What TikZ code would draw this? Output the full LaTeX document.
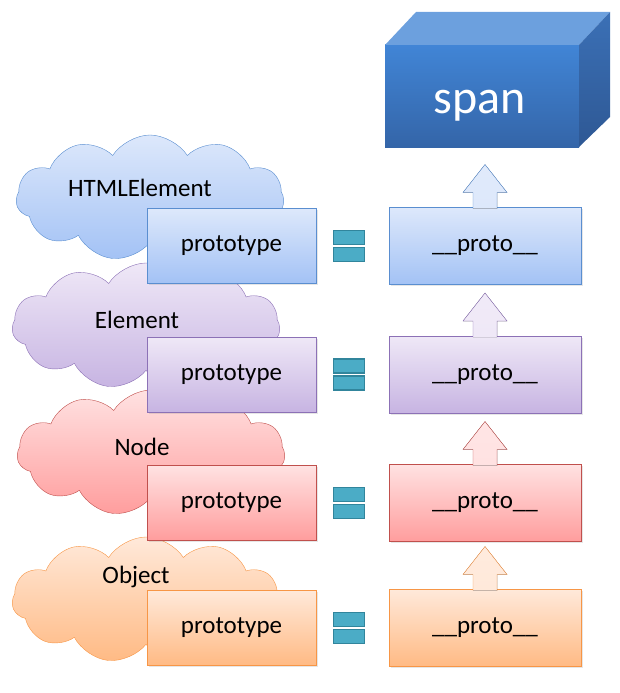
\documentclass[tikz,border=0pt]{standalone}
\usepackage{fontspec}
\setmainfont{Carlito}
\usetikzlibrary{calc, shapes.symbols, shadows}

\definecolor{blueTop}{HTML}{DDE8FB}
\definecolor{blueBot}{HTML}{A3C2F5}
\definecolor{blueLine}{HTML}{5A8ED0}
\definecolor{purpleTop}{HTML}{EFE8F7}
\definecolor{purpleBot}{HTML}{C7B4E2}
\definecolor{purpleLine}{HTML}{8C71B6}
\definecolor{redTop}{HTML}{FFE2E2}
\definecolor{redBot}{HTML}{FF9D9D}
\definecolor{redLine}{HTML}{C0504D}
\definecolor{orangeTop}{HTML}{FFE9DA}
\definecolor{orangeBot}{HTML}{FFBA84}
\definecolor{orangeLine}{HTML}{F79646}
\definecolor{eqFill}{HTML}{4BACC6}
\definecolor{eqLine}{HTML}{31859C}
\definecolor{spanFrontTop}{HTML}{4185D6}
\definecolor{spanFrontBot}{HTML}{3465A8}
\definecolor{spanTopFace}{HTML}{6CA0DE}
\definecolor{spanSideTop}{HTML}{3B70B6}
\definecolor{spanSideBot}{HTML}{2E5894}

\begin{document}
\begin{tikzpicture}[x=1pt, y=-1pt,
    txt/.style={font=\fontsize{25}{30}\selectfont},
    bubble/.style={cloud, cloud puffs=11, cloud puff arc=115, aspect=2.1,
                   minimum width=268pt, minimum height=126pt, inner sep=0pt},
    protobox/.style={rectangle, inner sep=0pt, outer sep=0pt, txt,
                     drop shadow={opacity=0.2, shadow xshift=1.5pt, shadow yshift=-1.5pt}},
    eqbar/.style={rectangle, fill=eqFill, draw=eqLine, line width=1.2pt,
                  minimum width=31pt, minimum height=14pt, inner sep=0pt},
    spanfront/.style={rectangle, inner sep=0pt, outer sep=0pt,
                      minimum width=194pt, minimum height=102pt,
                      top color=spanFrontTop, bottom color=spanFrontBot},
    spanlabel/.style={text=white, font=\fontsize{48}{56}\selectfont}]
      \useasboundingbox (0,0) rectangle (619,693);

      % The span block, front face first, then top and side
      \node[spanfront] (span) at (482,96) {};
      \fill[spanTopFace] (span.north west) -- ++(31,-33) -- ++(194,0) -- (span.north east) -- cycle;
      \shade[top color=spanSideTop, bottom color=spanSideBot]
           (span.north east) -- ++(31,-33) -- ++(0,105) -- (span.south east) -- cycle;
      \node[spanlabel] (spantext) at ($(span.center)+(-2,10)$) {span};

      % Clouds, drawn behind all the boxes
      \foreach \i/\name/\col/\cx/\cy/\tx/\ty in {1/HTMLElement/blue/150/198/140/188,
                                                 2/Element/purple/146/326/137/320,
                                                 3/Node/red/151/453/142/447,
                                                 4/Object/orange/146/600/136/577}
      {
        \node[bubble, top color=\col Top, bottom color=\col Bot, draw=\col Line] (cloud\i) at (\cx,\cy) {};
        \node[txt] (name\i) at (\tx,\ty) {\name};
      }

      % prototype = __proto__, one row per constructor
      \foreach \i/\col/\y in {1/blue/246, 2/purple/374.5, 3/red/503, 4/orange/628}
      {
        \node[protobox, minimum width=169pt, minimum height=75pt,
              top color=\col Top, bottom color=\col Bot, draw=\col Line] (prototype\i) at (231.5,\y) {prototype};
        \node[eqbar] (eqa\i) at (349,\y-8.5) {};
        \node[eqbar] (eqb\i) at (349,\y+8.5) {};
        \node[protobox, minimum width=192pt, minimum height=77pt,
              top color=\col Top, bottom color=\col Bot, draw=\col Line] (proto\i) at (485,\y) {\_\_proto\_\_};

        % block arrow up to the next __proto__ (or to span)
        \filldraw[top color=\col Top!90!white, bottom color=\col Top, draw=\col Line]
             ($(proto\i.north)+(-12,1)$) -- ++(0,-16) -- ++(-10,0) -- ++(22,-28)
             -- ++(22,28) -- ++(-10,0) -- ($(proto\i.north)+(12,1)$);
      }
\end{tikzpicture}
\end{document}
